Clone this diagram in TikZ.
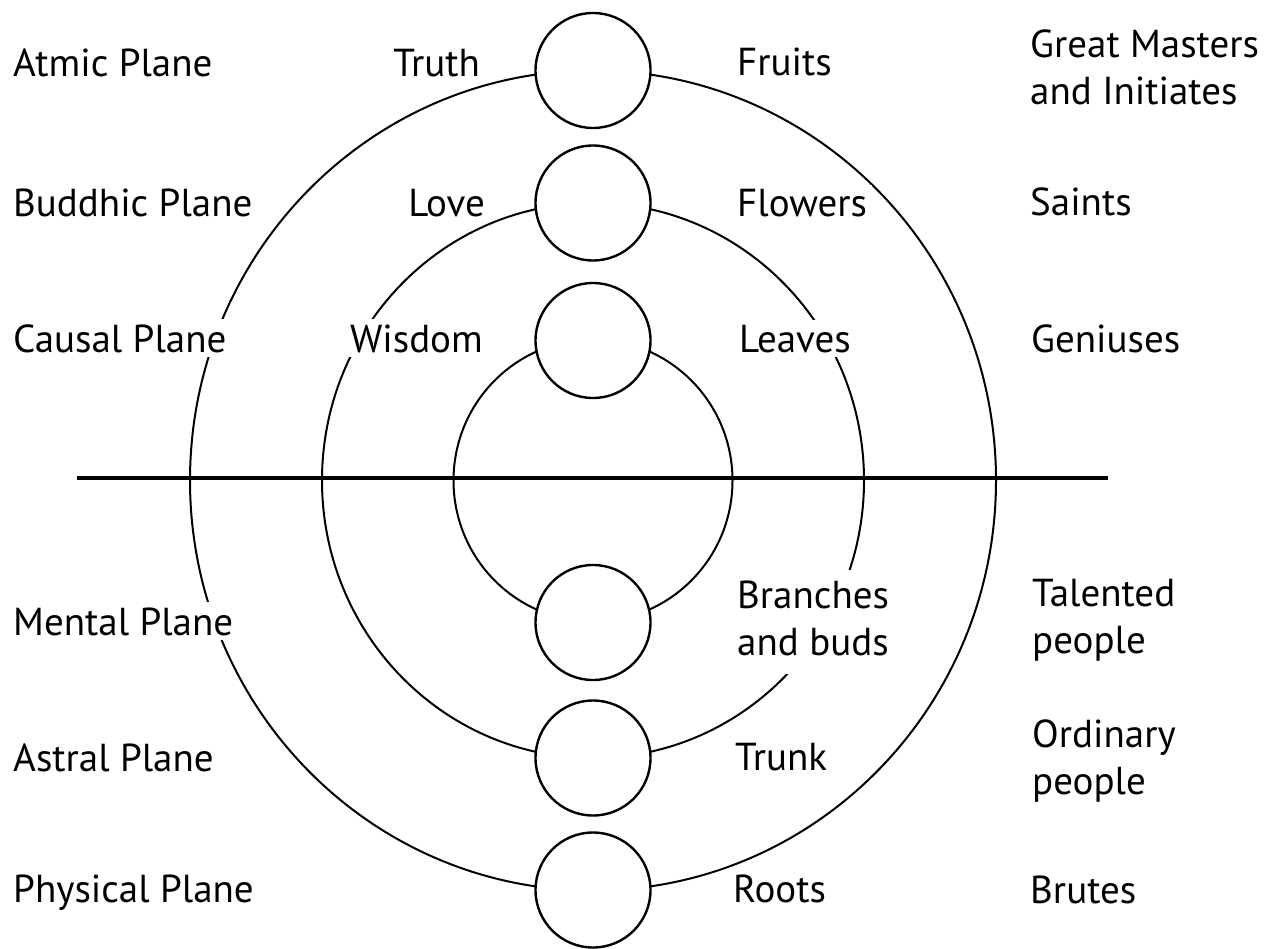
\documentclass[tikz,border=0pt]{standalone}
\usepackage{fontspec}
\setmainfont{PT Sans}
\begin{document}
\begin{tikzpicture}[x=1pt,y=-1pt,
  bigring/.style={draw=black,line width=2pt},
  divider/.style={draw=black,line width=3.8pt},
  seed/.style={circle,draw=black,fill=white,line width=2.4pt,minimum size=115pt,inner sep=0pt},
  lab/.style={fill=white,inner sep=5pt,font=\fontsize{39}{47}\selectfont},
  labW/.style={lab,anchor=base west,xshift=-5pt},
  labE/.style={lab,anchor=base east,xshift=5pt}]
\useasboundingbox[fill=white] (0,0) rectangle (1273,949);
\coordinate (O) at (593,480.5);
% rings
\draw[bigring] (O) ellipse [x radius=403, y radius=410];
\draw[bigring] (O) ellipse [x radius=271, y radius=277.5];
\draw[bigring] (O) ellipse [x radius=139.5, y radius=141];
% divider
\coordinate (L) at (77,478);
\coordinate (R) at (1108,478);
\draw[divider] (L) -- (R);
% left column
\node[labW] (atmic) at (13,77) {Atmic Plane};
\node[labW] (buddhic) at (13,217) {Buddhic Plane};
\node[labW] (causal) at (13,352) {Causal Plane};
\node[labW] (mental) at (13,635) {Mental Plane};
\node[labW] (astral) at (13,771) {Astral Plane};
\node[labW] (physical) at (13,902) {Physical Plane};
% inner left
\node[labE] (truth) at (480,77) {Truth};
\node[labE] (love) at (485,217) {Love};
\node[labE] (wisdom) at (483,352) {Wisdom};
% inner right
\node[labW] (fruits) at (737,76) {Fruits};
\node[labW] (flowers) at (737,217) {Flowers};
\node[labW] (leaves) at (739,352) {Leaves};
\node[labW] (branches) at (737,608) {\begin{tabular}[t]{@{}l@{}}Branches\\and buds\end{tabular}};
\node[labW] (trunk) at (735,770) {Trunk};
\node[labW] (roots) at (733,902) {Roots};
% right column
\node[labW] (masters) at (1030,58) {\begin{tabular}[t]{@{}l@{}}Great Masters\\and Initiates\end{tabular}};
\node[labW] (saints) at (1030,216) {Saints};
\node[labW] (geniuses) at (1031,352) {Geniuses};
\node[labW] (talented) at (1032,606) {\begin{tabular}[t]{@{}l@{}}Talented\\people\end{tabular}};
\node[labW] (ordinary) at (1032,747) {\begin{tabular}[t]{@{}l@{}}Ordinary\\people\end{tabular}};
\node[labW] (brutes) at (1030,903) {Brutes};
% seeds
\node[seed] (s1) at (593,70.5) {};
\node[seed] (s2) at (593,203) {};
\node[seed] (s3) at (593,340.5) {};
\node[seed] (s4) at (593,622.5) {};
\node[seed] (s5) at (593,758) {};
\node[seed] (s6) at (593,890) {};
\end{tikzpicture}
\end{document}
